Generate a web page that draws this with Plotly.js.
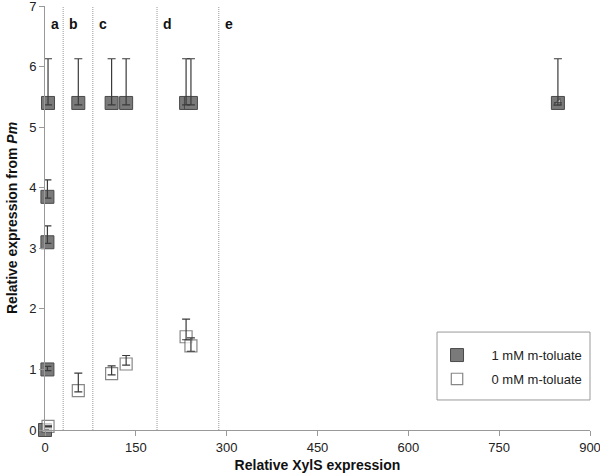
<!DOCTYPE html>
<html>
<head>
<meta charset="utf-8">
<script src="https://cdn.plot.ly/plotly-3.0.1.min.js"></script>
<style>html,body{margin:0;padding:0;background:#fff;}#chart{width:600px;height:473px;}</style>
</head>
<body>
<div id="chart"></div>
<script>
// 1 mM m-toluate (filled squares)
const inducedX = [0, 4, 4, 4, 5, 55, 110, 134, 233, 241, 847];
const inducedY = [0.0, 1.0, 3.1, 3.85, 5.4, 5.4, 5.4, 5.4, 5.4, 5.4, 5.4];
const inducedErrUp = [0, 0.05, 0.27, 0.28, 0.73, 0.73, 0.73, 0.73, 0.73, 0.73, 0.73];
const inducedErrDown = [0, 0.02, 0.02, 0.02, 0.03, 0.03, 0.03, 0.03, 0.03, 0.03, 0.03];

// 0 mM m-toluate (open squares)
const uninducedX = [5, 55, 110, 134, 233, 241, 847];
const uninducedY = [0.06, 0.65, 0.93, 1.09, 1.54, 1.39, 5.4];
const uninducedErrUp = [0.01, 0.29, 0.13, 0.14, 0.29, 0.13, 0.0];
const uninducedErrDown = [0.01, 0.02, 0.02, 0.02, 0.05, 0.09, 0.0];
const uninducedSymbols = ['square', 'square', 'square', 'square', 'square', 'square', 'triangle-se'];
const uninducedSizes = [12, 12, 12, 12, 12, 12, 8];

// section dividers and labels
const dividers = [30, 79, 185, 287];
const sectionLabels = ['a', 'b', 'c', 'd', 'e'];
const sectionStarts = [0, 30, 79, 185, 287];

const xTicks = [0, 150, 300, 450, 600, 750, 900];
const yTicks = [0, 1, 2, 3, 4, 5, 6, 7];

const seriesNames = ['1 mM m-toluate', '0 mM m-toluate'];
const pad = '\u00a0\u00a0\u00a0\u00a0';

const errStyle = (up, down) => ({type: 'data', symmetric: false, array: up, arrayminus: down,
  color: '#3a3a3a', thickness: 1.2, width: 4});

const traces = [
  {x: inducedX, y: inducedY, type: 'scatter', mode: 'markers', name: pad + seriesNames[0], legendgroup: 'g1',
   marker: {symbol: 'square', size: 13, color: '#7a7a7a', line: {color: '#4a4a4a', width: 1}},
   cliponaxis: false},
  {x: uninducedX, y: uninducedY, type: 'scatter', mode: 'markers', name: pad + seriesNames[1], legendgroup: 'g2',
   marker: {symbol: uninducedSymbols, size: uninducedSizes, color: '#ffffff', line: {color: '#555555', width: 1.2}},
   cliponaxis: false},
  // error bars drawn over the markers
  {x: inducedX, y: inducedY, type: 'scatter', mode: 'markers', showlegend: false, hoverinfo: 'skip', legendgroup: 'g3',
   marker: {size: 1, opacity: 0}, error_y: errStyle(inducedErrUp, inducedErrDown), cliponaxis: false},
  {x: uninducedX, y: uninducedY, type: 'scatter', mode: 'markers', showlegend: false, hoverinfo: 'skip', legendgroup: 'g4',
   marker: {size: 1, opacity: 0}, error_y: errStyle(uninducedErrUp, uninducedErrDown), cliponaxis: false}
];

const shapes = dividers.map(d => ({type: 'line', xref: 'x', yref: 'paper', x0: d, x1: d, y0: 0, y1: 1,
  line: {color: '#999999', width: 1, dash: '1px,1px'}, layer: 'below'}));
// legend frame
shapes.push({type: 'rect', xref: 'paper', yref: 'paper', x0: 0.7193, x1: 1.0, y0: 0.0708, y1: 0.231,
  line: {color: '#999999', width: 1}, fillcolor: 'rgba(0,0,0,0)', layer: 'above'});

const annotations = sectionLabels.map((t, i) => ({text: '<b>' + t + '</b>', x: sectionStarts[i], xref: 'x',
  y: 0.957, yref: 'paper', xanchor: 'left', yanchor: 'middle', xshift: 4, showarrow: false,
  font: {family: 'Liberation Sans, Arial, sans-serif', size: 14, color: '#111'}}));

const layout = {
  width: 600, height: 473,
  margin: {l: 45, r: 10, t: 6, b: 43},
  paper_bgcolor: '#ffffff', plot_bgcolor: '#ffffff',
  font: {family: 'Liberation Sans, Arial, sans-serif', size: 13, color: '#222'},
  showlegend: true,
  xaxis: {range: [0, 900], tickvals: xTicks, ticks: 'outside', ticklen: 5, tickcolor: '#999',
    showline: true, linecolor: '#999', linewidth: 1, showgrid: false, zeroline: false,
    ticklabeloverflow: 'allow', tickfont: {size: 13, color: '#222'},
    title: {text: '<b>Relative XylS expression</b>', font: {size: 14, color: '#111'}, standoff: 6}},
  yaxis: {range: [0, 7.001], tickvals: yTicks, ticks: 'outside', ticklen: 5, tickcolor: '#999',
    showline: true, linecolor: '#999', linewidth: 1, showgrid: false, zeroline: false,
    ticklabeloverflow: 'allow', tickfont: {size: 13, color: '#222'},
    title: {text: '<b>Relative expression from <i>Pm</i></b>', font: {size: 14, color: '#111'}, standoff: 8}},
  legend: {x: 0.7193, y: 0.212, xanchor: 'left', yanchor: 'top', borderwidth: 0,
    bgcolor: 'rgba(0,0,0,0)', itemwidth: 30, font: {size: 13, color: '#222'},
    traceorder: 'grouped', tracegroupgap: 4},
  shapes: shapes,
  annotations: annotations
};

Plotly.newPlot('chart', traces, layout, {displayModeBar: false, staticPlot: true});
</script>
</body>
</html>
